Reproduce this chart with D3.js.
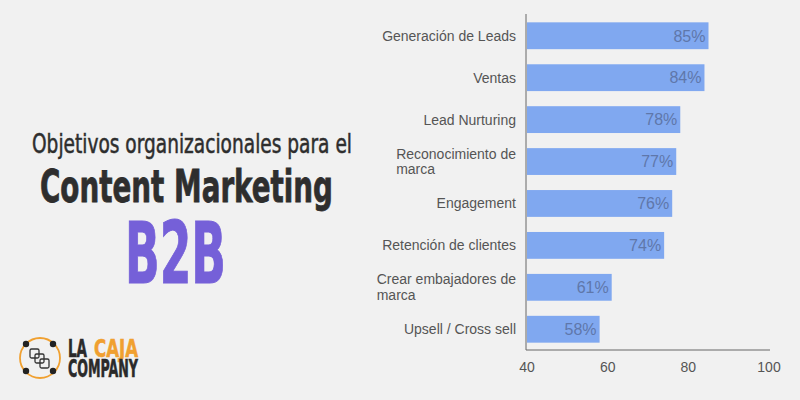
<!DOCTYPE html>
<html><head><meta charset="utf-8">
<script src="https://cdn.jsdelivr.net/npm/d3@7"></script>
<style>
html,body{margin:0;padding:0;background:#f1f1f1;}
svg{display:block;}
</style></head>
<body>
<script>
const categories = ["Generación de Leads","Ventas","Lead Nurturing","Reconocimiento de marca","Engagement","Retención de clientes","Crear embajadores de marca","Upsell / Cross sell"];
const categoryLines = [["Generación de Leads"],["Ventas"],["Lead Nurturing"],["Reconocimiento de","marca"],["Engagement"],["Retención de clientes"],["Crear embajadores de","marca"],["Upsell / Cross sell"]];
const values = [85,84,78,77,76,74,61,58];
const xTicks = [40,60,80,100];
const titleLine1 = "Objetivos organizacionales para el";
const titleLine2 = "Content Marketing";
const titleLine3 = "B2B";

const W = 800, H = 400;
const svg = d3.select("body").append("svg").attr("width", W).attr("height", H);
svg.append("rect").attr("width", W).attr("height", H).attr("fill", "#f1f1f1");

const x = d3.scaleLinear().domain([40,100]).range([527,769]);
const y = d3.scaleBand().domain(categories).range([15,350]).paddingInner(0.36).paddingOuter(0.175);

// bars
svg.selectAll("rect.bar").data(values).join("rect")
  .attr("class","bar")
  .attr("x", x(40))
  .attr("y", (d,i)=>y(categories[i]))
  .attr("width", d=>x(d)-x(40))
  .attr("height", y.bandwidth())
  .attr("fill", "#80a8f0");

// value labels
svg.selectAll("text.val").data(values).join("text")
  .attr("class","val")
  .attr("x", d=>x(d)-3)
  .attr("y", (d,i)=>y(categories[i]) + y.bandwidth()/2)
  .attr("dy","0.36em")
  .attr("text-anchor","end")
  .attr("font-family","Liberation Sans, Arial, sans-serif")
  .attr("font-size", 16)
  .attr("fill","#5f77aa")
  .text(d=>d+"%");

// category labels
const labelG = svg.append("g").attr("font-family","Liberation Sans, Arial, sans-serif").attr("font-size",14).attr("fill","#555");
categories.forEach((c,i)=>{
  const lines = categoryLines[i];
  const cy = y(c) + y.bandwidth()/2;
  const lh = 15.5;
  if (lines.length === 1) {
    labelG.append("text").attr("x", 516).attr("y", cy).attr("dy","0.35em").attr("text-anchor","end").text(lines[0]);
  } else {
    const tmp = labelG.append("text").text(lines[0]);
    const w = tmp.node().getComputedTextLength();
    tmp.remove();
    const x0 = 516 - w;
    const t = labelG.append("text");
    lines.forEach((ln,j)=>{
      t.append("tspan").attr("x", x0).attr("y", cy + (j - (lines.length-1)/2)*lh).attr("dy","0.35em").text(ln);
    });
  }
});

// axes
svg.append("line").attr("x1", x(40)-1).attr("x2", x(40)-1).attr("y1", 14).attr("y2", 350).attr("stroke","#666").attr("stroke-width",1);
svg.append("line").attr("x1", x(40)-1).attr("x2", x(100)+1).attr("y1", 350).attr("y2", 350).attr("stroke","#666").attr("stroke-width",1);
svg.selectAll("text.tick").data(xTicks).join("text")
  .attr("class","tick")
  .attr("x", d=>x(d))
  .attr("y", 372)
  .attr("text-anchor","middle")
  .attr("font-family","Liberation Sans, Arial, sans-serif")
  .attr("font-size",14)
  .attr("fill","#555")
  .text(d=>d);

// title
const tf = "DejaVu Sans Condensed, DejaVu Sans, sans-serif";
svg.append("text").attr("x",32).attr("y",153).attr("font-family",tf).attr("font-size",26).attr("stroke","#2e2e2e").attr("stroke-width",0.5)
  .attr("fill","#2e2e2e").attr("textLength",320).attr("lengthAdjust","spacingAndGlyphs").text(titleLine1);
svg.append("text").attr("x",40).attr("y",202).attr("font-family",tf).attr("font-weight","bold").attr("font-size",45)
  .attr("fill","#2e2e2e").attr("stroke","#2e2e2e").attr("stroke-width",0.8)
  .attr("textLength",293).attr("lengthAdjust","spacingAndGlyphs").text(titleLine2);
svg.append("text").attr("x",125).attr("y",283).attr("font-family",tf).attr("font-weight","bold").attr("font-size",86)
  .attr("fill","#7560d8").attr("stroke","#7560d8").attr("stroke-width",1)
  .attr("textLength",101).attr("lengthAdjust","spacingAndGlyphs").text(titleLine3);

// logo
const lg = svg.append("g");
lg.append("circle").attr("cx",40).attr("cy",358).attr("r",20).attr("fill","none").attr("stroke","#f0a030").attr("stroke-width",1.8);
[[26,344],[53,344],[26,371],[53,371]].forEach(p=>lg.append("circle").attr("cx",p[0]).attr("cy",p[1]).attr("r",3.2).attr("fill","#222"));
[[30,349],[35,354],[40,359]].forEach(p=>lg.append("rect").attr("x",p[0]).attr("y",p[1]).attr("width",9).attr("height",9).attr("rx",1.5).attr("fill","none").attr("stroke","#333").attr("stroke-width",1.3));
function logoText(txt, x0, base, w, col){
  lg.append("text").attr("transform",`translate(${x0},${base}) scale(1,1.45)`)
    .attr("font-family",tf).attr("font-weight","bold").attr("font-size",17).attr("fill",col)
    .attr("stroke",col).attr("stroke-width",0.4)
    .attr("textLength",w).attr("lengthAdjust","spacingAndGlyphs").text(txt);
}
logoText("LA",68,357,19,"#2a2a2a");
logoText("CAJA",94,357,44,"#f0a030");
logoText("COMPANY",68,377,70,"#2a2a2a");
</script>
</body></html>
